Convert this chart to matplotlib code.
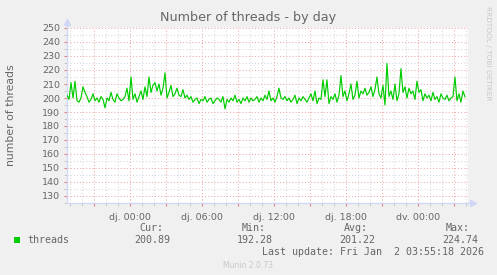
import matplotlib
matplotlib.use("Agg")
import matplotlib.pyplot as plt
import numpy as np
from matplotlib.ticker import MultipleLocator, FixedLocator, FuncFormatter

# ---- data (samples; hours relative to Thu 00:00) ----
start_hour = -5.25
step_hour = 1.0 / 6.0
threads = [
    202, 199, 211, 200, 212, 198, 197, 200, 208, 204,
    201, 197, 199, 203, 198, 200, 197, 201, 199, 193,
    200, 198, 204, 199, 197, 203, 200, 198, 199, 201,
    207, 198, 215, 199, 203, 197, 201, 205, 199, 208,
    201, 215, 204, 209, 211, 205, 210, 202, 207, 218,
    200, 204, 209, 201, 203, 207, 202, 201, 206, 200,
    202, 199, 201, 197, 199, 200, 196, 199, 198, 201,
    197, 199, 200, 196, 198, 200, 199, 197, 201, 192.28,
    199, 197, 200, 198, 202, 197, 199, 196, 200, 198,
    201, 197, 200, 198, 199, 201, 197, 200, 198, 202,
    199, 205, 198, 200, 197, 201, 207, 200, 199, 201,
    198, 200, 197, 199, 202, 196, 200, 198, 201, 199,
    197, 200, 203, 198, 205, 196, 200, 199, 213, 201,
    213, 196, 201, 199, 203, 197, 202, 216, 201, 205,
    198, 203, 210, 199, 202, 212, 200, 205, 203, 207,
    202, 204, 208, 201, 206, 215, 203, 200, 209, 195,
    224.74, 201, 205, 199, 210, 198, 203, 221, 204, 208,
    200, 207, 203, 205, 199, 212, 204, 206, 198, 203,
    200, 202, 198, 204, 199, 201, 197, 203, 200, 199,
    202, 198, 200, 201, 215, 198, 203, 197, 205, 200.89,
]
hours = start_hour + step_hour * np.arange(len(threads))

x_tick_hours = [0, 6, 12, 18, 24]
x_tick_labels = ["dj. 00:00", "dj. 06:00", "dj. 12:00", "dj. 18:00", "dv. 00:00"]
y_ticks = list(range(130, 251, 10))

series_name = "threads"
stat_names = ["Cur:", "Min:", "Avg:", "Max:"]
stat_values = ["200.89", "192.28", "201.22", "224.74"]
last_update = "Last update: Fri Jan  2 03:55:18 2026"

# ---- style ----
W, H = 497, 275
BG = "#f0f0f0"
FONT_C = "#666666"
AXIS_C = "#cfd6f8"
MGRID = "#f0a8a8"
GRID = "#d8d8d8"
GREEN = "#00cc00"

fig = plt.figure(figsize=(W / 100, H / 100), dpi=100, facecolor=BG)
L, R, T, B = 67, 468, 28, 203
ax = fig.add_axes([L / W, 1 - B / H, (R - L) / W, (B - T) / H])
ax.set_facecolor("white")

ax.plot(hours, threads, color=GREEN, lw=0.85, zorder=3)

ax.set_xlim(-5.25, 28.17)
ax.set_ylim(125, 250)

ax.xaxis.set_major_locator(MultipleLocator(3))
ax.xaxis.set_minor_locator(MultipleLocator(1))
lab = dict(zip(x_tick_hours, x_tick_labels))
ax.xaxis.set_major_formatter(FuncFormatter(lambda v, p: lab.get(int(round(v)), "")))
ax.yaxis.set_major_locator(FixedLocator(y_ticks))
ax.yaxis.set_minor_locator(MultipleLocator(5))

ax.grid(which="major", color=MGRID, ls=(0, (1, 2)), lw=0.75, zorder=1)
ax.grid(which="minor", color=GRID, ls=(0, (1, 2)), lw=0.75, zorder=0)

for s in ["top", "right"]:
    ax.spines[s].set_visible(False)
for s in ["left", "bottom"]:
    ax.spines[s].set_color(AXIS_C)
    ax.spines[s].set_linewidth(0.9)

ax.tick_params(axis="both", which="both", labelsize=6.8, labelcolor=FONT_C)
ax.tick_params(axis="x", which="major", length=2, color="#e08080", pad=5)
ax.tick_params(axis="x", which="minor", length=2, color="#c0c0c0")
ax.tick_params(axis="y", which="major", length=2, color="#e08080", pad=3)
ax.tick_params(axis="y", which="minor", length=2, color="#c0c0c0")

# axis arrows
ax.plot([0, 0], [1, 1.03], transform=ax.transAxes, color=AXIS_C, lw=0.9, clip_on=False)
ax.plot([0], [1.035], transform=ax.transAxes, marker="^", ms=4, color=AXIS_C, clip_on=False)
ax.plot([1, 1.008], [0, 0], transform=ax.transAxes, color=AXIS_C, lw=0.9, clip_on=False)
ax.plot([1.012], [0], transform=ax.transAxes, marker=">", ms=4, color=AXIS_C, clip_on=False)

ax.set_ylabel("number of threads", fontsize=7.8, color=FONT_C)
ax.yaxis.set_label_coords(-(L - 16) / (R - L), 0.5)

fig.text(0.5, 1 - 18 / H, "Number of threads - by day", ha="center", va="center",
         fontsize=9.2, color=FONT_C)
fig.text(488 / W, 1 - 6 / H, "RRDTOOL / TOBI OETIKER", rotation=270, ha="center", va="top",
         fontsize=5.3, color="#c8c8c8")

# legend / stats
mono = "DejaVu Sans Mono"
fig.patches.append(plt.Rectangle((14 / W, 1 - 243 / H), 6 / W, 6 / H, transform=fig.transFigure,
                                 facecolor=GREEN, edgecolor="none"))
fig.text(27 / W, 1 - 240 / H, series_name, fontsize=7.2, family=mono, color=FONT_C,
         ha="left", va="center")
name_right = [163, 266, 368, 470]
val_right = [170, 273, 375, 478]
for n, v, xn, xv in zip(stat_names, stat_values, name_right, val_right):
    fig.text(xn / W, 1 - 228 / H, n, fontsize=7.2, family=mono, color=FONT_C, ha="right", va="center")
    fig.text(xv / W, 1 - 240 / H, v, fontsize=7.2, family=mono, color=FONT_C, ha="right", va="center")
fig.text(484 / W, 1 - 252 / H, last_update, fontsize=7.2, family=mono, color=FONT_C,
         ha="right", va="center")
fig.text(248 / W, 1 - 265 / H, "Munin 2.0.73", fontsize=5.5, color="#c8c8c8", ha="center", va="center")

fig.savefig("out.png", dpi=100, facecolor=BG)
